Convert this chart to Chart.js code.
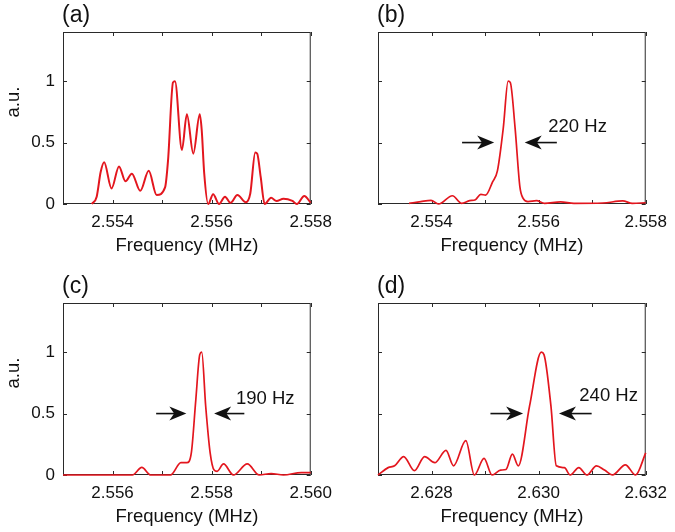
<!DOCTYPE html>
<html lang="en">
<head>
<meta charset="UTF-8">
<title>Spectra</title>
<script src="https://cdn.jsdelivr.net/npm/chart.js@4.4.0/dist/chart.umd.min.js"></script>
<style>
  body { margin: 0; background: #fff; }
  #wrap { position: relative; width: 675px; height: 532px; }
  #wrap canvas { position: absolute; }
</style>
</head>
<body>
<div id="wrap">
  <canvas id="chartA" width="340" height="261" style="left:0;top:0"></canvas>
  <canvas id="chartB" width="335" height="261" style="left:340px;top:0"></canvas>
  <canvas id="chartC" width="340" height="261" style="left:0;top:271px"></canvas>
  <canvas id="chartD" width="335" height="261" style="left:340px;top:271px"></canvas>
</div>
<script>
// --- data (MHz, normalised amplitude) ---
var freqA = [2.55358, 2.55368, 2.55376, 2.55383, 2.55398, 2.55413, 2.55426, 2.55439, 2.55456, 2.55473,
             2.55489, 2.55506, 2.55512, 2.55522, 2.55526, 2.55540, 2.55550, 2.55563, 2.55576, 2.55580,
             2.55585, 2.55593, 2.55603, 2.55615, 2.55627, 2.55638, 2.55652, 2.55669, 2.55678, 2.55688,
             2.55692, 2.55699, 2.55707, 2.55720, 2.55731, 2.55745, 2.55763, 2.55772, 2.55787, 2.55800];
var ampA  = [0, 0.06, 0.26, 0.34, 0.127, 0.306, 0.185, 0.247, 0.107, 0.27,
             0.073, 0.135, 0.355, 0.99, 1.0, 0.44, 0.73, 0.41, 0.73, 0.6,
             0.25, 0, 0.08, 0, 0.06, 0.01, 0.073, 0.015, 0.086, 0.42,
             0.41, 0.22, 0, 0.05, 0.025, 0.043, 0.025, 0, 0.065, 0.01];

var freqB = [2.55358, 2.55380, 2.55399, 2.55413, 2.55439, 2.55456, 2.55471, 2.55482, 2.55492, 2.55501,
             2.55514, 2.55523, 2.55534, 2.55543, 2.55547, 2.55556, 2.55565, 2.55571, 2.55580, 2.55596,
             2.55611, 2.55641, 2.55666, 2.55720, 2.55757, 2.55775, 2.55800];
var ampB  = [0.005, 0.02, 0.03, 0, 0.067, 0.005, 0.027, 0.035, 0.078, 0.073,
             0.18, 0.27, 0.62, 1.0, 0.99, 0.62, 0.14, 0.046, 0.02, 0.027,
             0.005, 0.018, 0.005, 0.008, 0.025, 0.005, 0.01];

var freqC = [2.55500, 2.55640, 2.55659, 2.55677, 2.55717, 2.55738, 2.55750, 2.55759, 2.55768, 2.55776,
             2.55780, 2.55788, 2.55797, 2.55805, 2.55811, 2.55824, 2.55844, 2.55872, 2.55896, 2.55920,
             2.55945, 2.55981, 2.56000];
var ampC  = [0, 0, 0.062, 0, 0, 0.1, 0.1, 0.18, 0.61, 0.98,
             1.0, 0.56, 0.18, 0.04, 0.03, 0.09, 0, 0.09, 0, 0.012,
             0, 0.02, 0.02];

var freqD = [2.62700, 2.62719, 2.62731, 2.62748, 2.62768, 2.62787, 2.62806, 2.62827, 2.62841, 2.62864,
             2.62880, 2.62898, 2.62913, 2.62929, 2.62939, 2.62951, 2.62962, 2.62983, 2.63005, 2.63010,
             2.63023, 2.63033, 2.63048, 2.63059, 2.63075, 2.63090, 2.63108, 2.63123, 2.63138, 2.63162,
             2.63181, 2.63200];
var ampD  = [0, 0.06, 0.075, 0.15, 0.035, 0.15, 0.1, 0.2, 0.075, 0.28,
             0, 0.135, 0, 0.04, 0.045, 0.17, 0.075, 0.56, 1.0, 0.98,
             0.56, 0.075, 0.06, 0, 0.06, 0, 0.075, 0.04, 0, 0.083,
             0, 0.18];

// axis ticks (every 1 kHz) and the ones that carry a label
var ticksAB = [2.553, 2.554, 2.555, 2.556, 2.557, 2.558];
var labelsAB = ['2.554', '2.556', '2.558'];
var ticksC = [2.555, 2.556, 2.557, 2.558, 2.559, 2.560];
var labelsC = ['2.556', '2.558', '2.560'];
var ticksD = [2.627, 2.628, 2.629, 2.630, 2.631, 2.632];
var labelsD = ['2.628', '2.630', '2.632'];
var yTicks = [0, 0.5, 1];

// linewidth markers: [left tail, left tip, right tip, right tail]
var markB = [2.55457, 2.55517, 2.55574, 2.55634];
var markC = [2.55688, 2.55749, 2.55805, 2.55866];
var markD = [2.62910, 2.62971, 2.63038, 2.63099];

var FONT = '"Liberation Sans", Arial, Helvetica, sans-serif';
var INK = '#111';

function arrow(ctx, x0, x1, y) {
    var dir = x1 > x0 ? 1 : -1;
    var head = 17, half = 7;
    ctx.beginPath();
    ctx.moveTo(x0, y);
    ctx.lineTo(x1 - dir * head * 0.7, y);
    ctx.stroke();
    ctx.beginPath();
    ctx.moveTo(x1, y);
    ctx.lineTo(x1 - dir * head, y - half);
    ctx.lineTo(x1 - dir * head * 0.72, y);
    ctx.lineTo(x1 - dir * head, y + half);
    ctx.closePath();
    ctx.fill();
}

var panelDeco = {
    id: 'panelDeco',
    beforeDatasetsDraw: function(chart, args, o) {
        var ctx = chart.ctx, a = chart.chartArea;
        var xs = chart.scales.x, ys = chart.scales.y;
        ctx.save();
        ctx.strokeStyle = '#2a2a2a';
        ctx.lineWidth = 1;
        ctx.strokeRect(a.left + 0.5, a.top + 0.5, a.right - a.left - 1, a.bottom - a.top - 1);
        ctx.beginPath();
        xs.ticks.forEach(function(t) {
            var px = Math.round(xs.getPixelForValue(t.value)) + 0.5;
            ctx.moveTo(px, a.bottom); ctx.lineTo(px, a.bottom - 4);
            ctx.moveTo(px, a.top); ctx.lineTo(px, a.top + 4);
        });
        ys.ticks.forEach(function(t) {
            var py = Math.round(ys.getPixelForValue(t.value)) + 0.5;
            ctx.moveTo(a.left, py); ctx.lineTo(a.left + 4, py);
            ctx.moveTo(a.right, py); ctx.lineTo(a.right - 4, py);
        });
        ctx.stroke();
        ctx.restore();
    },
    afterDraw: function(chart, args, o) {
        var ctx = chart.ctx, a = chart.chartArea;
        var xs = chart.scales.x, ys = chart.scales.y;
        ctx.save();
        ctx.fillStyle = INK;
        ctx.font = '23px ' + FONT;
        ctx.textAlign = 'left';
        ctx.textBaseline = 'alphabetic';
        ctx.fillText(o.tag, a.left - 1, a.top - 10);
        if (o.yTitle) {
            ctx.save();
            ctx.translate(13.5, ys.getPixelForValue(0.83));
            ctx.rotate(-Math.PI / 2);
            ctx.font = '18.5px ' + FONT;
            ctx.textAlign = 'center';
            ctx.textBaseline = 'middle';
            ctx.fillText('a.u.', 0, 0);
            ctx.restore();
        }
        if (o.mark) {
            var m = o.mark, py = ys.getPixelForValue(o.markY);
            ctx.strokeStyle = INK;
            ctx.lineWidth = 1.6;
            arrow(ctx, xs.getPixelForValue(m[0]), xs.getPixelForValue(m[1]), py);
            arrow(ctx, xs.getPixelForValue(m[3]), xs.getPixelForValue(m[2]), py);
            ctx.font = '18.5px ' + FONT;
            ctx.textBaseline = 'middle';
            ctx.fillText(o.text, xs.getPixelForValue(o.textX), ys.getPixelForValue(o.textY));
        }
        ctx.restore();
    }
};

function makePanel(id, freq, amp, xMin, xMax, xTicks, xLabels, left, deco, lw) {
    var pts = freq.map(function(f, i) { return { x: f, y: amp[i] }; });
    return new Chart(document.getElementById(id), {
        type: 'line',
        data: {
            datasets: [{
                data: pts,
                borderColor: '#e3161e',
                borderWidth: lw,
                pointRadius: 0,
                cubicInterpolationMode: 'monotone',
                fill: false,
                clip: 3
            }]
        },
        options: {
            responsive: false,
            animation: false,
            layout: { padding: { top: 32, right: left ? 3 : 21, left: 0, bottom: 0 } },
            plugins: {
                legend: { display: false },
                tooltip: { enabled: false },
                panelDeco: deco
            },
            scales: {
                x: {
                    type: 'linear',
                    min: xMin,
                    max: xMax,
                    afterBuildTicks: function(s) { s.ticks = xTicks.map(function(v) { return { value: v }; }); },
                    afterFit: function(s) { s.height = 57; },
                    ticks: {
                        autoSkip: false,
                        maxRotation: 0,
                        padding: 8,
                        color: INK,
                        font: { family: FONT, size: 17 },
                        callback: function(v) {
                            var s = Number(v).toFixed(3);
                            return xLabels.indexOf(s) >= 0 ? s : '';
                        }
                    },
                    grid: { display: false, drawTicks: false },
                    border: { display: false },
                    title: {
                        display: true,
                        text: 'Frequency (MHz)',
                        color: INK,
                        font: { family: FONT, size: 18.5 },
                        padding: { top: 0, bottom: 4 }
                    }
                },
                y: {
                    min: 0,
                    max: 1.4,
                    afterBuildTicks: function(s) { s.ticks = yTicks.map(function(v) { return { value: v }; }); },
                    afterFit: function(s) { s.width = left ? 63 : 38; },
                    ticks: {
                        display: left,
                        padding: 8,
                        color: INK,
                        font: { family: FONT, size: 17 },
                        callback: function(v) { return String(v); }
                    },
                    grid: { display: false, drawTicks: false },
                    border: { display: false }
                }
            }
        },
        plugins: [panelDeco]
    });
}

makePanel('chartA', freqA, ampA, 2.553, 2.558, ticksAB, labelsAB, true,
    { tag: '(a)', yTitle: true }, 2);
makePanel('chartB', freqB, ampB, 2.553, 2.558, ticksAB, labelsAB, false,
    { tag: '(b)', mark: markB, markY: 0.5, text: '220 Hz', textX: 2.55618, textY: 0.625 }, 1.7);
makePanel('chartC', freqC, ampC, 2.555, 2.560, ticksC, labelsC, true,
    { tag: '(c)', yTitle: true, mark: markC, markY: 0.5, text: '190 Hz', textX: 2.55849, textY: 0.62 }, 1.7);
makePanel('chartD', freqD, ampD, 2.627, 2.632, ticksD, labelsD, false,
    { tag: '(d)', mark: markD, markY: 0.5, text: '240 Hz', textX: 2.63076, textY: 0.645 }, 1.7);
</script>
</body>
</html>
